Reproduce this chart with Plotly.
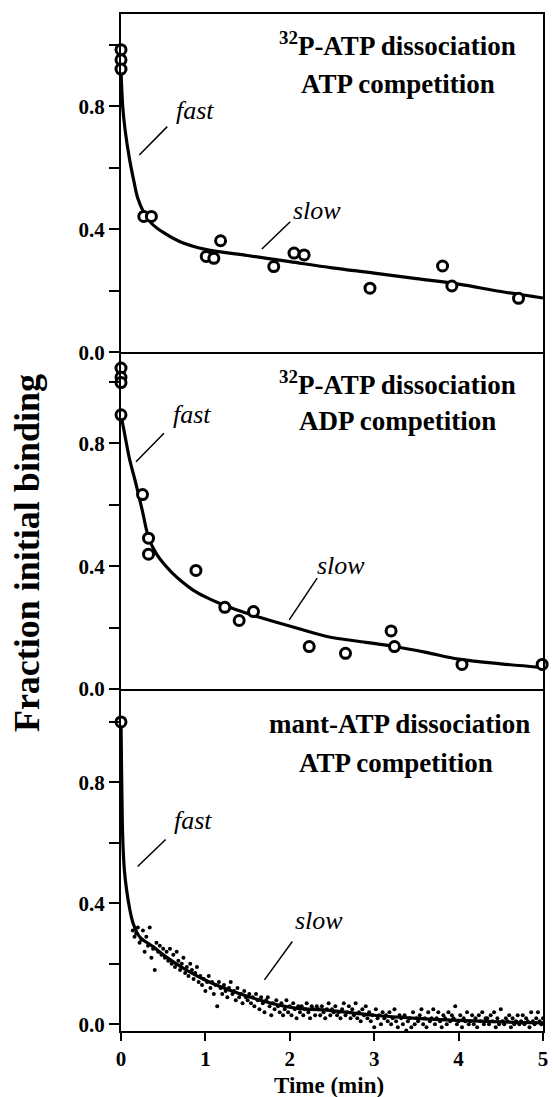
import plotly.graph_objects as go
from plotly.subplots import make_subplots

# ---------------- data ----------------
# Panel A: 32P-ATP dissociation, ATP competition
atp_t = [0, 0, 0, 0.27, 0.36, 1.01, 1.10, 1.18, 1.81, 2.05, 2.17, 2.95, 3.81, 3.92, 4.71]
atp_y = [0.984, 0.951, 0.921, 0.442, 0.442, 0.312, 0.306, 0.363, 0.279, 0.323, 0.317,
         0.209, 0.281, 0.216, 0.176]
atp_fit_t = [0, 0.02, 0.05, 0.1, 0.15, 0.2, 0.27, 0.36, 0.5, 0.7, 1.0, 1.5, 2.0, 2.5,
             3.0, 3.5, 4.0, 4.5, 5.0]
atp_fit_y = [0.92, 0.80, 0.72, 0.63, 0.56, 0.50, 0.455, 0.42, 0.39, 0.36, 0.335, 0.315,
             0.295, 0.275, 0.258, 0.24, 0.222, 0.198, 0.177]

# Panel B: 32P-ATP dissociation, ADP competition
adp_t = [0, 0, 0, 0, 0.255, 0.326, 0.326, 0.888, 1.23, 1.40, 1.57, 2.23, 2.66, 3.20,
         3.24, 4.04, 4.99]
adp_y = [1.045, 1.015, 0.998, 0.893, 0.633, 0.491, 0.439, 0.386, 0.266, 0.223, 0.252,
         0.138, 0.116, 0.189, 0.138, 0.08, 0.08]
adp_fit_t = [0, 0.03, 0.06, 0.1, 0.18, 0.255, 0.33, 0.42, 0.5, 0.6, 0.72, 0.85, 1.0,
             1.2, 1.43, 1.6, 1.82, 2.1, 2.44, 2.9, 3.2, 3.6, 4.0, 4.5, 5.0]
adp_fit_y = [0.89, 0.85, 0.806, 0.75, 0.665, 0.578, 0.49, 0.44, 0.41, 0.38, 0.35, 0.323,
             0.30, 0.275, 0.252, 0.237, 0.219, 0.197, 0.171, 0.152, 0.140, 0.12, 0.097,
             0.082, 0.07]

# Panel C: mant-ATP dissociation, ATP competition (fluorescence trace)
mant_point_t = [0]
mant_point_y = [1.0]
mant_fit_t = [0, 0.005, 0.01, 0.02, 0.04, 0.066, 0.105, 0.144, 0.22, 0.38, 0.53, 0.77,
              1.04, 1.39, 1.78, 2.09, 2.44, 3.0, 3.5, 4.0, 4.5, 5.0]
mant_fit_y = [1.0, 0.88, 0.776, 0.62, 0.51, 0.445, 0.379, 0.334, 0.29, 0.257, 0.224,
              0.18, 0.141, 0.103, 0.07, 0.053, 0.047, 0.03, 0.02, 0.013, 0.008, 0.005]
mant_trace_start = 0.14      # min
mant_sample_interval = 0.02  # min
mant_trace_y = [
    0.31, 0.29, 0.30, 0.32, 0.27, 0.28, 0.31, 0.24, 0.29, 0.26,
    0.32, 0.22, 0.25, 0.18, 0.27, 0.24, 0.26, 0.23, 0.25, 0.22,
    0.24, 0.21, 0.25, 0.20, 0.23, 0.19, 0.24, 0.21, 0.18, 0.20,
    0.22, 0.17, 0.19, 0.16, 0.20, 0.18, 0.15, 0.17, 0.19, 0.14,
    0.16, 0.13, 0.15, 0.11, 0.14, 0.16, 0.12, 0.14, 0.10, 0.13,
    0.06, 0.14, 0.12, 0.10, 0.13, 0.11, 0.09, 0.12, 0.14, 0.10,
    0.11, 0.08, 0.12, 0.09, 0.10, 0.07, 0.11, 0.09, 0.08, 0.10,
    0.07, 0.09, 0.06, 0.10, 0.08, 0.05, 0.09, 0.07, 0.04, 0.08,
    0.09, 0.06, 0.03, 0.07, 0.05, 0.08, 0.06, 0.04, 0.07, 0.03,
    0.05, 0.08, 0.04, 0.06, 0.03, 0.07, 0.05, 0.02, 0.06, 0.04,
    0.06, 0.03, 0.05, 0.07, 0.04, 0.02, 0.06, 0.05, 0.03, 0.06,
    0.05, 0.03, 0.06, 0.04, 0.02, 0.05, 0.07, 0.03, 0.05, 0.04,
    0.06, 0.03, 0.04, 0.02, 0.05, 0.07, 0.03, 0.04, 0.06, 0.02,
    0.05, 0.03, 0.07, 0.02, 0.04, 0.01, 0.05, 0.03, 0.06, 0.02,
    0.04, 0.01, 0.03, -0.01, 0.05, 0.02, 0.03, 0.00, 0.04, 0.02,
    0.03, 0.01, 0.04, 0.00, 0.02, 0.05, 0.01, -0.01, 0.03, 0.02,
    0.00, 0.03, -0.02, 0.01, 0.02, -0.01, 0.04, 0.00, 0.02, 0.01,
    0.03, 0.05, 0.00, 0.02, -0.01, 0.04, 0.01, 0.02, 0.05, 0.00,
    0.02, 0.04, 0.01, -0.01, 0.03, 0.02, 0.00, 0.04, 0.01, 0.03,
    0.02, 0.06, 0.00, 0.01, 0.03, -0.01, 0.02, 0.01, 0.04, 0.00,
    0.01, 0.03, 0.00, 0.02, -0.01, 0.03, 0.01, 0.04, 0.00, 0.02,
    0.02, 0.00, 0.03, 0.01, 0.04, -0.01, 0.02, 0.00, 0.05, 0.01,
    0.00, 0.02, 0.01, 0.03, -0.01, 0.02, 0.00, 0.01, 0.03, 0.00,
    0.01, 0.03, 0.00, 0.02, 0.01, -0.01, 0.04, 0.01, 0.00, 0.02,
    0.04, 0.01, 0.00, 0.02,
]
mant_trace_t = [round(mant_trace_start + i * mant_sample_interval, 3)
                for i in range(len(mant_trace_y))]

x_ticks = [0, 1, 2, 3, 4, 5]
y_ticks = [0.0, 0.2, 0.4, 0.6, 0.8, 1.0]
y_tick_text = ["0.0", " ", "0.4", " ", "0.8", " "]

panel_titles = [
    ("<sup>32</sup>P-ATP dissociation", "ATP competition"),
    ("<sup>32</sup>P-ATP dissociation", "ADP competition"),
    ("mant-ATP dissociation", "ATP competition"),
]

# ---------------- figure ----------------
SERIF = "Liberation Serif"
fig = make_subplots(rows=3, cols=1, shared_xaxes=True, vertical_spacing=0)

circle_marker = dict(symbol="circle", size=10, color="white",
                     line=dict(color="black", width=3))
fit_line = dict(color="black", width=3.2)

fig.add_trace(go.Scatter(x=atp_fit_t, y=atp_fit_y, mode="lines", line=fit_line,
                         line_shape="spline"), row=1, col=1)
fig.add_trace(go.Scatter(x=atp_t, y=atp_y, mode="markers", marker=circle_marker,
                         cliponaxis=False), row=1, col=1)

fig.add_trace(go.Scatter(x=adp_fit_t, y=adp_fit_y, mode="lines", line=fit_line,
                         line_shape="spline"), row=2, col=1)
fig.add_trace(go.Scatter(x=adp_t, y=adp_y, mode="markers", marker=circle_marker,
                         cliponaxis=False), row=2, col=1)

fig.add_trace(go.Scatter(x=mant_trace_t, y=mant_trace_y, mode="markers",
                         marker=dict(size=4, color="black")), row=3, col=1)
fig.add_trace(go.Scatter(x=mant_fit_t, y=mant_fit_y, mode="lines", line=fit_line,
                         line_shape="spline"), row=3, col=1)
fig.add_trace(go.Scatter(x=mant_point_t, y=mant_point_y, mode="markers",
                         marker=circle_marker, cliponaxis=False), row=3, col=1)

# panel geometry (paper fractions) and y ranges
domains = [[0.6672, 1.0], [0.3363, 0.6672], [0.0, 0.3363]]
y_ranges = [[0, 1.1], [0, 1.096], [-0.022, 1.109]]

tick_font = dict(family=SERIF, size=21, color="black", weight="bold")
for i in range(3):
    r = i + 1
    fig.update_yaxes(row=r, col=1, domain=domains[i], range=y_ranges[i],
                     tickmode="array", tickvals=y_ticks, ticktext=y_tick_text,
                     ticks="outside", ticklen=10, tickwidth=2, tickcolor="black",
                     showline=True, linewidth=2, linecolor="black", mirror=True,
                     showgrid=False, zeroline=False, tickfont=tick_font)
    fig.update_xaxes(row=r, col=1, range=[0, 5], showline=True, linewidth=2,
                     linecolor="black", showgrid=False, zeroline=False)
fig.update_xaxes(row=1, col=1, showticklabels=False, ticks="", mirror=True)
fig.update_xaxes(row=2, col=1, showticklabels=False, ticks="", mirror=False)
fig.update_xaxes(row=3, col=1, mirror=False, tickmode="array", tickvals=x_ticks,
                 ticks="outside", ticklen=8, tickwidth=2, tickcolor="black",
                 tickfont=tick_font)

annotations = []
title_font = dict(family=SERIF, size=27, color="black", weight="bold")
label_font = dict(family=SERIF, size=26, color="black", style="italic")
title_pos = [(3.28, 1.003, 0.873), (3.28, 0.997, 0.873), (3.30, 0.994, 0.865)]
for i, (line1, line2) in enumerate(panel_titles):
    xr = "x" if i == 0 else f"x{i + 1}"
    yr = "y" if i == 0 else f"y{i + 1}"
    tx, ty1, ty2 = title_pos[i]
    annotations.append(dict(x=tx, y=ty1, xref=xr, yref=yr, text=line1,
                            xanchor="center", yanchor="middle",
                            showarrow=False, font=title_font))
    annotations.append(dict(x=tx - (0.04 if i == 2 else 0), y=ty2, xref=xr, yref=yr,
                            text=line2, xanchor="center", yanchor="middle",
                            showarrow=False, font=title_font))

# "fast" / "slow" labels with leader lines: (text x, text y, line x0, y0, x1, y1)
phase_labels = [
    [("fast", 0.88, 0.785, 0.548, 0.734, 0.217, 0.642),
     ("slow", 2.32, 0.463, 2.005, 0.425, 1.669, 0.336)],
    [("fast", 0.837, 0.893, 0.509, 0.833, 0.178, 0.740),
     ("slow", 2.605, 0.401, 2.324, 0.361, 1.993, 0.225)],
    [("fast", 0.855, 0.673, 0.529, 0.611, 0.197, 0.522),
     ("slow", 2.35, 0.345, 2.03, 0.274, 1.70, 0.147)],
]
shapes = []
for i, labels in enumerate(phase_labels):
    xr = "x" if i == 0 else f"x{i + 1}"
    yr = "y" if i == 0 else f"y{i + 1}"
    for text, tx, ty, x0, y0, x1, y1 in labels:
        annotations.append(dict(x=tx, y=ty, xref=xr, yref=yr, text=text,
                                xanchor="center", yanchor="middle",
                                showarrow=False, font=label_font))
        shapes.append(dict(type="line", xref=xr, yref=yr, x0=x0, y0=y0, x1=x1, y1=y1,
                           line=dict(color="black", width=1.5)))

annotations.append(dict(x=-0.2225, y=0.470, xref="paper", yref="paper",
                        text="Fraction initial binding", textangle=-90,
                        xanchor="center", yanchor="middle", showarrow=False,
                        font=dict(family=SERIF, size=36, color="black", weight="bold")))
annotations.append(dict(x=0.492, y=-0.0535, xref="paper", yref="paper",
                        text="Time (min)", showarrow=False, xanchor="center",
                        yanchor="middle",
                        font=dict(family=SERIF, size=23, color="black", weight="bold")))

fig.update_layout(width=554, height=1097, margin=dict(l=121, r=6, t=14, b=66),
                  paper_bgcolor="white", plot_bgcolor="white", showlegend=False,
                  annotations=annotations, shapes=shapes)

fig.write_html("out.html")
